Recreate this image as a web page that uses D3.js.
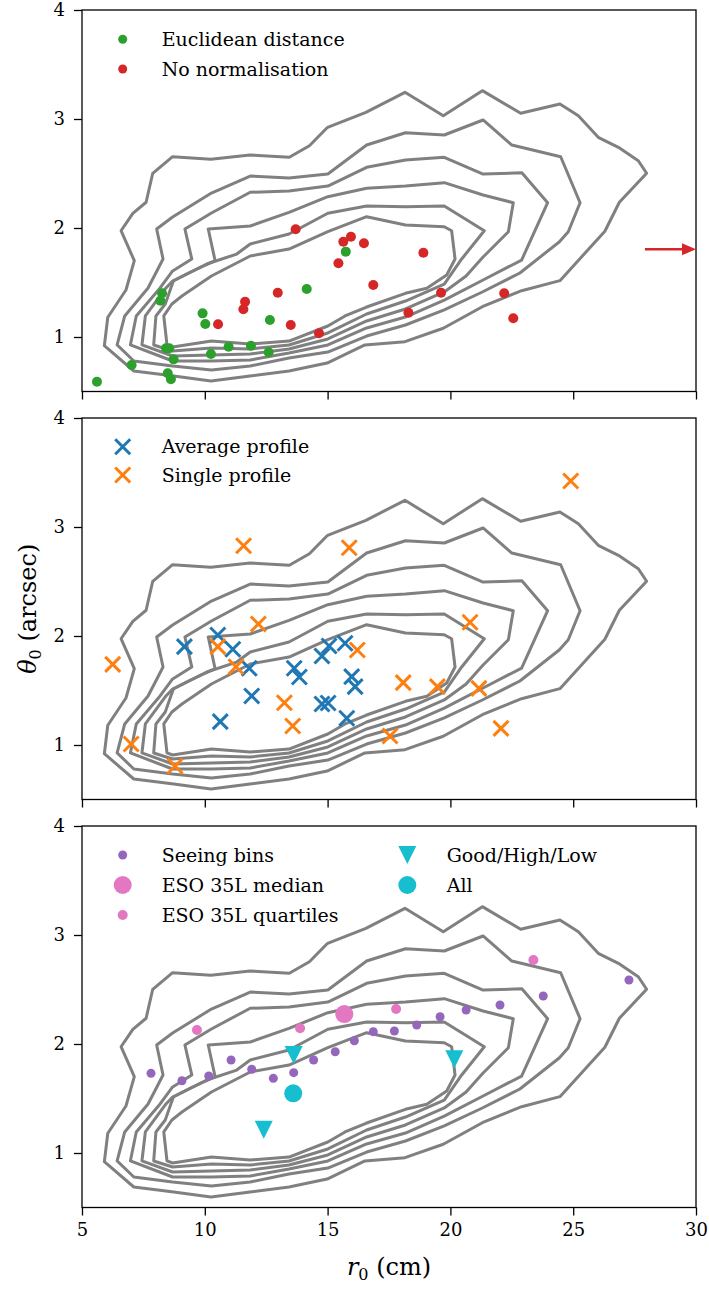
<!DOCTYPE html>
<html>
<head>
<meta charset="utf-8">
<script src="https://cdn.jsdelivr.net/npm/d3@7/dist/d3.min.js"></script>
<style>
  body { margin: 0; background: #fff; }
  svg { display: block; }
</style>
</head>
<body>
<svg id="chart" width="709" height="1290"></svg>
<script>
// ---- axis ticks ----
const xTicks = [5, 10, 15, 20, 25, 30];
const yTicks = [1, 2, 3, 4];

// ---- density contours of the r0 / theta0 distribution, outermost first: [r0 (cm), theta0 (arcsec)] ----
const contour1 = [[10.25,0.596],[8.66,0.645],[7.11,0.688],[5.91,0.920],[6.05,1.181],[6.79,1.431],[7.13,1.700],[6.59,1.975],[7.07,2.135],[7.61,2.236],[7.88,2.502],[8.69,2.654],[10.25,2.630],[11.84,2.670],[13.44,2.649],[14.26,2.755],[15.00,2.924],[16.56,3.061],[18.15,3.245],[19.71,3.030],[21.30,3.260],[22.86,3.052],[24.46,3.138],[25.21,3.030],[26.02,2.832],[26.84,2.740],[27.65,2.617],[27.99,2.502],[26.88,2.236],[26.29,1.970],[24.46,1.517],[22.90,1.425],[21.30,1.278],[19.71,1.080],[18.15,0.957],[16.52,0.927],[14.98,0.761],[13.43,0.688],[11.84,0.642]];
const contour2 = [[6.43,0.927],[6.74,1.193],[7.69,1.450],[8.30,1.716],[8.04,1.991],[8.69,2.101],[10.27,2.321],[11.85,2.477],[13.43,2.459],[15.01,2.495],[16.59,2.761],[18.17,2.874],[19.75,2.853],[21.33,2.991],[22.50,2.761],[24.49,2.654],[25.28,2.232],[24.80,1.966],[24.43,1.872],[22.83,1.587],[21.30,1.413],[19.75,1.248],[18.17,1.110],[16.59,1.009],[15.01,0.862],[13.43,0.807],[11.85,0.734],[10.27,0.697],[8.69,0.734],[7.11,0.780]];
const contour3 = [[6.97,0.927],[7.21,1.193],[8.18,1.450],[8.69,1.606],[9.47,1.716],[9.19,1.991],[10.27,2.138],[11.85,2.328],[13.43,2.339],[15.01,2.385],[16.59,2.557],[18.17,2.624],[19.75,2.649],[21.33,2.495],[22.91,2.507],[23.96,2.232],[22.90,1.706],[21.33,1.523],[19.75,1.339],[18.17,1.183],[16.59,1.083],[15.01,0.927],[13.43,0.853],[11.85,0.789],[10.27,0.780],[8.69,0.780]];
const contour4 = [[7.44,0.927],[7.58,1.193],[8.42,1.450],[8.69,1.514],[9.52,1.606],[10.42,1.700],[10.14,1.991],[11.85,2.018],[13.43,2.144],[15.01,2.287],[16.59,2.364],[18.17,2.385],[19.75,2.416],[21.33,2.303],[22.56,2.232],[22.36,1.966],[21.33,1.734],[20.64,1.560],[19.75,1.413],[18.17,1.257],[16.59,1.147],[15.01,0.982],[13.43,0.890],[11.85,0.844],[10.27,0.835],[8.69,0.826]];
const contour5 = [[7.92,0.927],[8.01,1.193],[8.39,1.303],[8.72,1.514],[10.08,1.670],[11.30,1.761],[11.85,1.853],[13.43,1.945],[15.01,2.135],[16.59,2.202],[18.17,2.195],[19.75,2.202],[21.38,1.975],[20.46,1.716],[19.75,1.486],[18.17,1.330],[16.59,1.211],[15.01,1.037],[13.43,0.927],[11.85,0.890],[10.27,0.899],[8.69,0.872]];
const contour6 = [[8.46,0.927],[8.33,1.193],[8.66,1.303],[9.07,1.376],[10.27,1.560],[11.85,1.743],[13.43,1.807],[15.01,1.966],[16.59,2.104],[18.17,2.028],[19.75,2.012],[20.05,1.975],[20.19,1.716],[19.85,1.569],[19.04,1.447],[18.17,1.401],[16.59,1.275],[15.71,1.193],[15.01,1.101],[13.43,0.963],[11.85,0.936],[10.27,0.963],[8.69,0.908]];
const contourLines = [contour1, contour2, contour3, contour4, contour5, contour6];

// ---- top panel: profile fits ----
const euclideanDistance = [[5.61,0.590],[7.02,0.743],[8.26,1.401],[8.19,1.333],[9.91,1.217],[10.02,1.119],[8.42,0.896],[8.55,0.896],[8.73,0.795],[8.49,0.667],[8.62,0.612],[10.25,0.844],[10.97,0.911],[11.88,0.920],[12.60,0.860],[12.65,1.156],[14.15,1.440],[15.74,1.783]];
const noNormalisation = [[10.54,1.117],[11.57,1.254],[11.64,1.324],[12.97,1.406],[13.50,1.110],[13.70,1.988],[14.65,1.034],[15.64,1.874],[15.95,1.920],[16.48,1.860],[15.44,1.676],[16.86,1.477],[18.90,1.773],[19.62,1.406],[18.29,1.223],[22.19,1.401],[22.56,1.172]];
// one fit lies beyond the r0 range; an arrow marks its theta0
const offScale = { fromR0: 27.92, toR0: 30, theta0: 1.805 };

// ---- middle panel ----
const averageProfile = [[9.17,1.902],[10.53,2.009],[11.14,1.878],[11.81,1.704],[11.91,1.450],[10.63,1.214],[13.64,1.704],[13.85,1.624],[14.77,1.817],[15.06,1.908],[15.71,1.933],[15.98,1.627],[16.12,1.535],[14.77,1.376],[15.02,1.385],[15.78,1.245]];
const singleProfile = [[6.25,1.740],[11.58,2.828],[12.18,2.110],[10.53,1.902],[11.27,1.718],[13.24,1.388],[13.58,1.174],[7.00,1.009],[8.79,0.807],[24.90,3.422],[15.88,2.810],[20.80,2.126],[16.21,1.872],[18.08,1.572],[19.47,1.535],[21.16,1.520],[17.54,1.083],[22.06,1.153]];

// ---- bottom panel ----
const seeingBins = [[7.81,1.731],[9.07,1.663],[10.16,1.706],[11.07,1.853],[11.91,1.768],[12.79,1.685],[13.62,1.737],[14.43,1.853],[15.31,1.929],[16.09,2.030],[16.86,2.113],[17.72,2.119],[18.63,2.174],[19.58,2.250],[20.64,2.312],[22.02,2.358],[23.78,2.440],[27.27,2.587]];
const esoMedian = [[15.68,2.275]];
const esoQuartiles = [[9.68,2.128],[13.88,2.144],[17.79,2.321],[23.38,2.771]];
const goodHighLow = [[13.62,1.899],[12.40,1.214],[20.16,1.860]];
const allNights = [[13.60,1.548]];

// ---- colours ----
const C = {
  contour: "#808080", green: "#2ca02c", red: "#d62728", blue: "#1f77b4",
  orange: "#ff7f0e", purple: "#9467bd", pink: "#e377c2", cyan: "#17becf"
};
const FONT = "'DejaVu Serif', 'Liberation Serif', serif";
const FS_TICK = 18, FS_LEGEND = 19, FS_LABEL = 24;

const svg = d3.select("#chart");
const left = 82, right = 696, panelH = 381.5;
const panelTops = [10, 418, 826];
const x = d3.scaleLinear().domain([5, 30]).range([left, right]);

function makePanel(top, showXLabels) {
  const y = d3.scaleLinear().domain([0.5, 4]).range([top + panelH, top]);
  const g = svg.append("g");
  const line = d3.line().x(d => x(d[0])).y(d => y(d[1])).curve(d3.curveLinearClosed);
  g.append("g").selectAll("path").data(contourLines).join("path")
    .attr("d", line).attr("fill", "none").attr("stroke", C.contour)
    .attr("stroke-width", 3).attr("stroke-linejoin", "round");
  // axes
  const xAxis = d3.axisBottom(x).tickValues(xTicks).tickSize(8).tickPadding(8)
    .tickFormat(showXLabels ? d3.format("d") : () => "");
  const yAxis = d3.axisLeft(y).tickValues(yTicks).tickSize(8).tickPadding(9).tickFormat(d3.format("d"));
  const gx = g.append("g").attr("transform", `translate(0,${top + panelH})`).call(xAxis);
  const gy = g.append("g").attr("transform", `translate(${left},0)`).call(yAxis);
  [gx, gy].forEach(a => {
    a.select(".domain").remove();
    a.selectAll(".tick line").attr("stroke", "#000").attr("stroke-width", 1.3);
    a.selectAll(".tick text").attr("font-family", FONT).attr("font-size", FS_TICK).attr("fill", "#000");
  });
  g.append("rect").attr("x", left).attr("y", top).attr("width", right - left).attr("height", panelH)
    .attr("fill", "none").attr("stroke", "#000").attr("stroke-width", 1.3);
  return { g, y };
}

function dots(g, y, data, r, color) {
  g.append("g").selectAll("circle").data(data).join("circle")
    .attr("cx", d => x(d[0])).attr("cy", d => y(d[1])).attr("r", r).attr("fill", color);
}
const crossPath = s => `M${-s},${-s}L${s},${s}M${-s},${s}L${s},${-s}`;
function crosses(g, y, data, s, color) {
  g.append("g").selectAll("path").data(data).join("path")
    .attr("transform", d => `translate(${x(d[0])},${y(d[1])})`)
    .attr("d", crossPath(s))
    .attr("stroke", color).attr("stroke-width", 3).attr("fill", "none");
}
const triDown = s => `M0,${s}L${-s},${-s}L${s},${-s}Z`;
function triangles(g, y, data, s, color) {
  g.append("g").selectAll("path").data(data).join("path")
    .attr("transform", d => `translate(${x(d[0])},${y(d[1])})`)
    .attr("d", triDown(s)).attr("fill", color);
}
function legendText(g, tx, ty, label) {
  g.append("text").attr("x", tx).attr("y", ty + 6.5).attr("font-family", FONT)
    .attr("font-size", FS_LEGEND).attr("fill", "#000").text(label);
}
// axis title with an italic symbol and a subscript zero
function axisTitle(sel, symbol, unit) {
  sel.attr("text-anchor", "middle").attr("font-family", FONT).attr("font-size", FS_LABEL).attr("fill", "#000");
  sel.append("tspan").attr("font-style", "italic").text(symbol);
  sel.append("tspan").attr("font-size", 16).attr("dy", 5).text("0");
  sel.append("tspan").attr("dy", -5).text(" " + unit);
}

// ---- panel 1 ----
{
  const { g, y } = makePanel(panelTops[0], false);
  dots(g, y, euclideanDistance, 5, C.green);
  dots(g, y, noNormalisation, 5, C.red);
  const ay = y(offScale.theta0), x0 = x(offScale.fromR0), x1 = x(offScale.toR0);
  g.append("line").attr("x1", x0).attr("x2", x1 - 12).attr("y1", ay).attr("y2", ay)
    .attr("stroke", C.red).attr("stroke-width", 2.6);
  g.append("path").attr("d", `M${x1},${ay}L${x1 - 14},${ay - 6}L${x1 - 14},${ay + 6}Z`).attr("fill", C.red);
  const lg = g.append("g");
  lg.append("circle").attr("cx", 122.7).attr("cy", panelTops[0] + 29.3).attr("r", 4.5).attr("fill", C.green);
  lg.append("circle").attr("cx", 122.7).attr("cy", panelTops[0] + 59).attr("r", 4.5).attr("fill", C.red);
  legendText(lg, 161.7, panelTops[0] + 29.3, "Euclidean distance");
  legendText(lg, 161.7, panelTops[0] + 59, "No normalisation");
}

// ---- panel 2 ----
{
  const { g, y } = makePanel(panelTops[1], false);
  crosses(g, y, averageProfile, 7.5, C.blue);
  crosses(g, y, singleProfile, 7.5, C.orange);
  const lg = g.append("g");
  [[C.blue, 28.7, "Average profile"], [C.orange, 57, "Single profile"]].forEach(([c, dy, t]) => {
    const cy = panelTops[1] + dy;
    lg.append("path").attr("transform", `translate(122.7,${cy})`).attr("d", crossPath(7.5))
      .attr("stroke", c).attr("stroke-width", 3);
    legendText(lg, 161.7, cy, t);
  });
  // y-axis title, centred on the middle panel
  axisTitle(svg.append("text").attr("transform", `translate(36,${panelTops[1] + panelH / 2}) rotate(-90)`),
    "θ", "(arcsec)");
}

// ---- panel 3 ----
{
  const { g, y } = makePanel(panelTops[2], true);
  dots(g, y, seeingBins, 4.5, C.purple);
  dots(g, y, esoMedian, 9, C.pink);
  dots(g, y, esoQuartiles, 5, C.pink);
  triangles(g, y, goodHighLow, 9, C.cyan);
  dots(g, y, allNights, 9, C.cyan);
  const lg = g.append("g"), t0 = panelTops[2];
  lg.append("circle").attr("cx", 122.7).attr("cy", t0 + 29).attr("r", 4.5).attr("fill", C.purple);
  lg.append("circle").attr("cx", 122.7).attr("cy", t0 + 59).attr("r", 9).attr("fill", C.pink);
  lg.append("circle").attr("cx", 122.7).attr("cy", t0 + 89).attr("r", 5).attr("fill", C.pink);
  lg.append("path").attr("transform", `translate(407.3,${t0 + 29})`).attr("d", triDown(9)).attr("fill", C.cyan);
  lg.append("circle").attr("cx", 407.3).attr("cy", t0 + 59).attr("r", 9).attr("fill", C.cyan);
  legendText(lg, 161.7, t0 + 29, "Seeing bins");
  legendText(lg, 161.7, t0 + 59, "ESO 35L median");
  legendText(lg, 161.7, t0 + 89, "ESO 35L quartiles");
  legendText(lg, 446.7, t0 + 29, "Good/High/Low");
  legendText(lg, 446.7, t0 + 59, "All");
  // x-axis title
  axisTitle(svg.append("text").attr("x", (left + right) / 2).attr("y", 1275), "r", "(cm)");
}
</script>
</body>
</html>
